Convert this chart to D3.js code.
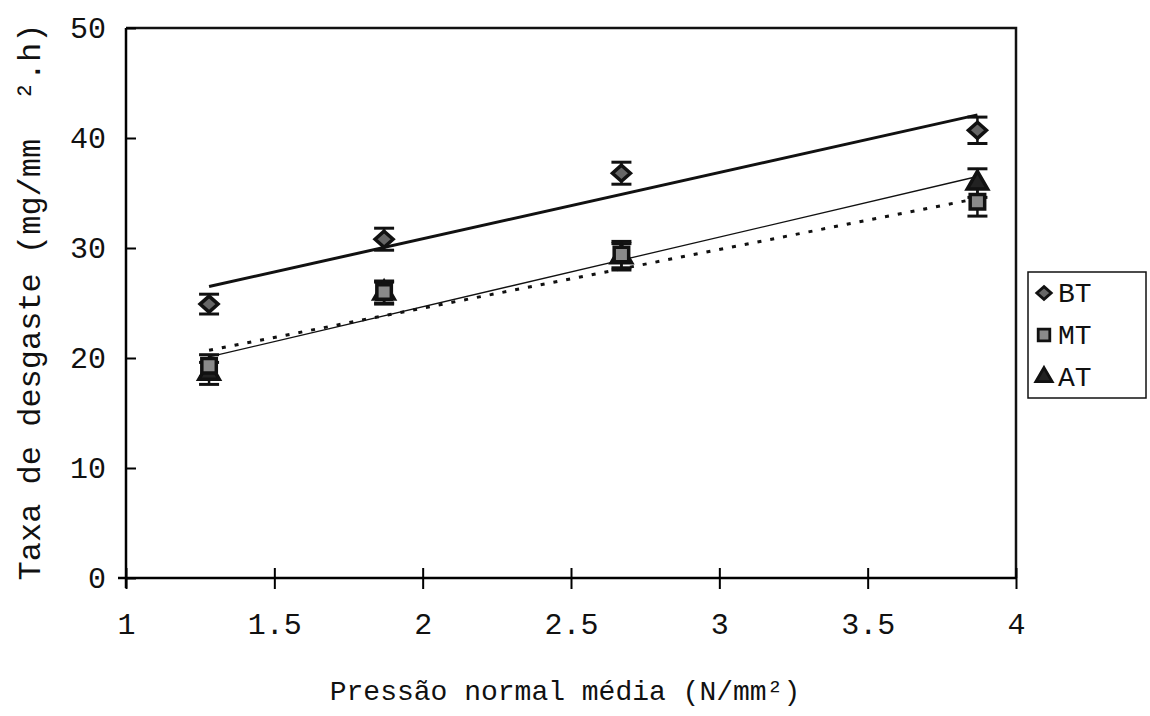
<html>
<head>
  <script src="https://d3js.org/d3.v7.min.js"></script>
  <style>
    body { margin: 0; background: #fff; }
    text { font-family: "Liberation Mono", "DejaVu Sans Mono", monospace; fill: #111; }
  </style>
</head>
<body>
  <div id="plot"></div>
  <script>

    // pressure (N/mm2) at each test
    var pressao = [1.28, 1.87, 2.67, 3.87];

    // wear rate per series
    var bt = [24.9, 30.8, 36.8, 40.7];
    var mt = [19.3, 26.0, 29.4, 34.2];
    var at = [18.6, 25.9, 29.2, 35.9];
    var btErr = [0.9, 1.0, 1.0, 1.2];
    var mtErr = [1.0, 1.0, 1.2, 1.3];
    var atErr = [1.0, 1.0, 1.2, 1.3];

    // trend line ends (at first and last pressure)
    var trendX = [1.28, 3.87];
    var btTrend = [26.5, 42.1];
    var mtTrend = [20.7, 34.5];
    var atTrend = [20.1, 36.5];

    var xTicks = [1, 1.5, 2, 2.5, 3, 3.5, 4];
    var yTicks = [0, 10, 20, 30, 40, 50];
    var legendNames = ["BT", "MT", "AT"];

    var W = 1150, H = 716;
    var mLeft = 126, mRight = 1016, mTop = 28, mBottom = 578;

    var svg = d3.select("#plot").append("svg")
      .attr("width", W)
      .attr("height", H);

    var x = d3.scaleLinear().domain([1, 4]).range([mLeft, mRight]);
    var y = d3.scaleLinear().domain([0, 50]).range([mBottom, mTop]);

    // frame top + right
    svg.append("path")
      .attr("d", "M" + mLeft + "," + mTop + "H" + mRight + "V" + mBottom)
      .attr("fill", "none").attr("stroke", "#111").attr("stroke-width", 2.5);

    // axes with crossing ticks
    var xAxis = svg.append("g")
      .attr("transform", "translate(0," + mBottom + ")")
      .call(d3.axisBottom(x).tickValues(xTicks).tickSize(11).tickFormat(d3.format("")).tickPadding(24));
    xAxis.selectAll(".tick line").attr("y1", -10).attr("stroke-width", 2);
    xAxis.select(".domain").attr("stroke-width", 2.5).attr("d", "M" + (mLeft - 8) + ",0H" + mRight);
    xAxis.selectAll("text").attr("font-size", 30).attr("font-family", "Liberation Mono").attr("fill", "#111");

    var yAxis = svg.append("g")
      .attr("transform", "translate(" + mLeft + ",0)")
      .call(d3.axisLeft(y).tickValues(yTicks).tickSize(10).tickPadding(10));
    yAxis.selectAll(".tick line").attr("x2", 10).attr("stroke-width", 2);
    yAxis.select(".domain").attr("stroke-width", 2.5).attr("d", "M0," + mTop + "V" + (mBottom + 10));
    yAxis.selectAll("text").attr("font-size", 30).attr("font-family", "Liberation Mono").attr("fill", "#111");

    // axis titles
    svg.append("text")
      .attr("x", 565).attr("y", 700)
      .attr("text-anchor", "middle").attr("font-size", 28)
      .text("Pressão normal média (N/mm²)");

    svg.append("text")
      .attr("transform", "translate(40," + 302 + ") rotate(-90)")
      .attr("text-anchor", "middle").attr("font-size", 32)
      .attr("xml:space", "preserve")
      .text("Taxa de desgaste (mg/mm  ².h)");

    // trend lines
    function trend(vals, width, dash) {
      svg.append("line")
        .attr("x1", x(trendX[0])).attr("y1", y(vals[0]))
        .attr("x2", x(trendX[1])).attr("y2", y(vals[1]))
        .attr("stroke", "#111").attr("stroke-width", width)
        .attr("stroke-dasharray", dash);
    }
    trend(btTrend, 3, null);
    trend(atTrend, 1.3, null);
    trend(mtTrend, 3, "4,9");

    // error bars
    function errBars(vals, errs) {
      var g = svg.append("g");
      pressao.forEach(function(p, i) {
        var cx = x(p);
        g.append("line").attr("x1", cx).attr("x2", cx)
          .attr("y1", y(vals[i] - errs[i])).attr("y2", y(vals[i] + errs[i]))
          .attr("stroke", "#111").attr("stroke-width", 2.5);
        [-1, 1].forEach(function(s) {
          g.append("line").attr("x1", cx - 10).attr("x2", cx + 10)
            .attr("y1", y(vals[i] + s * errs[i])).attr("y2", y(vals[i] + s * errs[i]))
            .attr("stroke", "#111").attr("stroke-width", 3);
        });
      });
    }
    errBars(at, atErr);
    errBars(mt, mtErr);
    errBars(bt, btErr);

    // wide diamond like the original marker
    var diamond = "M0,-8L9,0L0,8L-9,0Z";
    var square = d3.symbol().type(d3.symbolSquare).size(210)();
    var triangle = d3.symbol().type(d3.symbolTriangle).size(180)();

    function markers(vals, sym, fill) {
      svg.append("g").selectAll("path").data(vals).enter()
        .append("path")
        .attr("d", sym)
        .attr("transform", function(d, i) { return "translate(" + x(pressao[i]) + "," + y(d) + ")"; })
        .attr("fill", fill).attr("stroke", "#111").attr("stroke-width", 3.5);
    }
    markers(at, triangle, "#222");
    markers(mt, square, "#8a8a8a");
    markers(bt, diamond, "#666");

    // legend
    var lg = svg.append("g");
    lg.append("rect")
      .attr("x", 1028).attr("y", 272).attr("width", 118).attr("height", 126)
      .attr("fill", "#fff").attr("stroke", "#111").attr("stroke-width", 1.5);
    var syms = [[diamond, "#666"], [square, "#8a8a8a"], [triangle, "#222"]];
    legendNames.forEach(function(n, i) {
      var ly = 293 + i * 42;
      lg.append("path").attr("d", syms[i][0])
        .attr("transform", "translate(1044," + ly + ") scale(0.8)")
        .attr("fill", syms[i][1]).attr("stroke", "#111").attr("stroke-width", 3.5);
      lg.append("text").attr("x", 1058).attr("y", ly + 9)
        .attr("font-size", 28).text(n);
    });
  </script>
</body>
</html>
